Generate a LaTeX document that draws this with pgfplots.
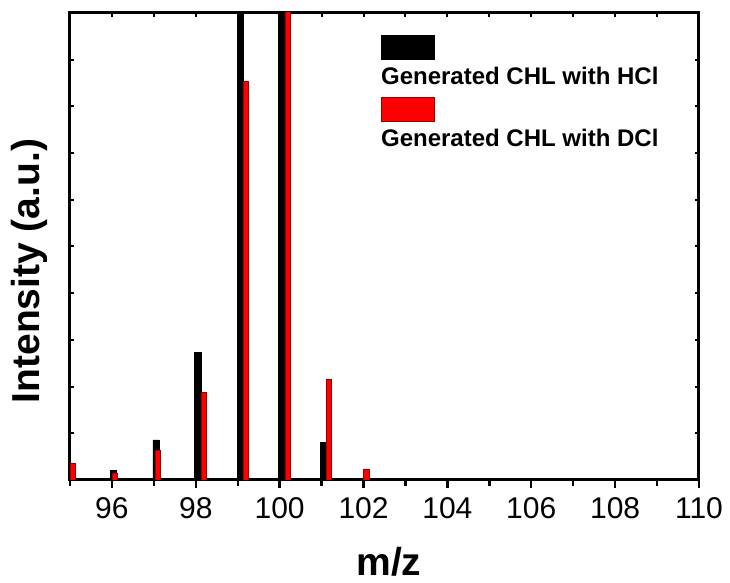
\documentclass[border=0pt]{standalone}
\usepackage{pgfplots}
\pgfplotsset{compat=1.18}
\usepackage{fontspec}
\setmainfont{Liberation Sans}
\definecolor{barred}{RGB}{255,0,0}
\definecolor{barredge}{RGB}{150,0,0}
\begin{document}
\begin{tikzpicture}
\useasboundingbox (0,0) rectangle (365pt,291.5pt);
% overlay axis for top/left/right ticks (inward)
\begin{axis}[
  at={(35pt,51.5pt)}, anchor=south west,
  scale only axis, width=314.5pt, height=233.5pt,
  xmin=95, xmax=110, ymin=0, ymax=10,
  axis line style={line width=1.5pt},
  xtick={95,...,110}, ytick={0,...,10},
  xtick pos=top, ytick pos=both,
  xticklabels={}, yticklabels={},
  tick align=inside, major tick length=2.2pt,
  tick style={line width=1pt, black},
]
\end{axis}
\begin{axis}[
  at={(35pt,51.5pt)}, anchor=south west,
  scale only axis, width=314.5pt, height=233.5pt,
  xmin=95, xmax=110, ymin=0, ymax=10,
  axis line style={line width=1.5pt},
  xtick={96,98,...,110}, minor xtick={95,97,...,109},
  ytick=\empty,
  xtick pos=bottom,
  x tick style={line width=1.2pt, black},
  tick align=outside,
  major tick length=4pt, minor tick length=3pt,
  ticklabel style={font=\fontsize{15}{18}\selectfont},
  /pgf/number format/assume math mode=true,
  xticklabel style={yshift=-1pt},
  xlabel={\textbf{m/z}},
  ylabel={\textbf{Intensity (a.u.)}},
  xlabel style={font=\fontsize{19.5}{22}\selectfont, at={(axis description cs:0.507,-0.176)}, anchor=center},
  ylabel style={font=\fontsize{19.5}{22}\selectfont, at={(axis description cs:-0.064,0.4475)}, anchor=center, rotate=0},
  ybar, clip=true,
]
% Generated CHL with HCl (black)
\addplot[fill=black, draw=black, line width=0.3pt, bar width=0.15, bar shift=0]
  coordinates {(96.03,0.2) (97.05,0.86) (98.05,2.73) (99.06,12) (100.05,12) (101.05,0.81)};
% Generated CHL with DCl (red)
\addplot[fill=barred, draw=barredge, line width=0.4pt, bar width=0.13, bar shift=0]
  coordinates {(95.07,0.36) (96.075,0.15) (97.09,0.63) (98.19,1.88) (99.2,8.53) (100.19,12) (101.17,2.15) (102.07,0.22)};
\node[anchor=north west, inner sep=0pt] at (rel axis cs:0.494,0.953) {\textcolor{black}{\rule{27pt}{12.5pt}}};
\node[anchor=base west, inner sep=0pt, font=\bfseries\fontsize{12}{14}\selectfont] at (rel axis cs:0.494,0.846) {Generated CHL with HCl};
\node[anchor=north west, inner sep=0pt] at (rel axis cs:0.494,0.822) {\setlength{\fboxsep}{0pt}\setlength{\fboxrule}{0.5pt}\fcolorbox{barredge}{barred}{\rule{0pt}{11.5pt}\rule{26pt}{0pt}}};
\node[anchor=base west, inner sep=0pt, font=\bfseries\fontsize{12}{14}\selectfont] at (rel axis cs:0.494,0.715) {Generated CHL with DCl};
\end{axis}
\end{tikzpicture}
\end{document}
